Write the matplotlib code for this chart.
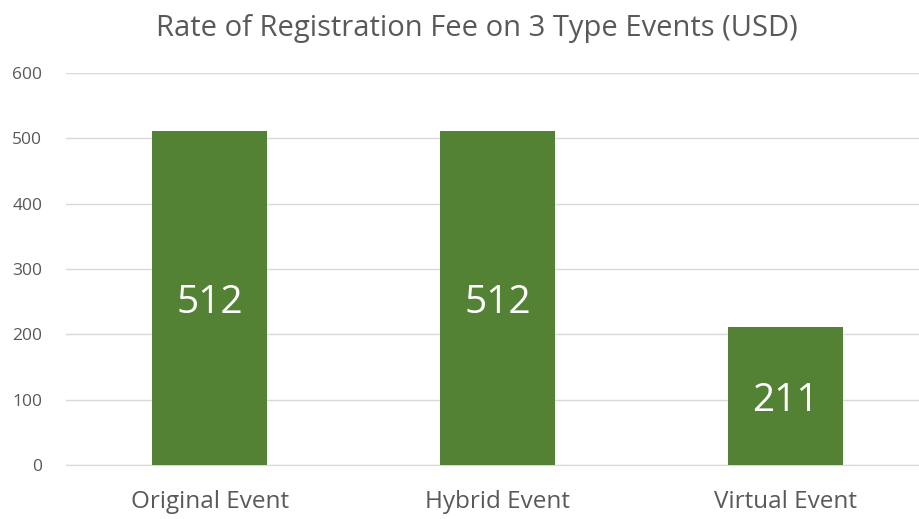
import matplotlib
matplotlib.use("Agg")
import matplotlib.pyplot as plt

categories = ["Original Event", "Hybrid Event", "Virtual Event"]
values = [512, 512, 211]
yticks = [0, 100, 200, 300, 400, 500, 600]
title = "Rate of Registration Fee on 3 Type Events (USD)"

plt.rcParams['font.family'] = ['Open Sans', 'DejaVu Sans']
gray = "#595959"
green = "#548235"

fig = plt.figure(figsize=(9.2, 5.19), dpi=100)
ax = fig.add_axes([0.0717, 0.104, 0.938, 0.755])
x = list(range(len(categories)))
bars = ax.bar(x, values, width=0.4, color=green, zorder=3)
for xi, v in zip(x, values):
    ax.text(xi, v / 2 - 8, str(v), ha="center", va="center", color="white", fontsize=28)

ax.set_xlim(-0.5, 2.5)
ax.set_ylim(0, 600)
ax.set_yticks(yticks)
ax.set_xticks(x)
ax.set_xticklabels(categories, fontsize=17.5, color=gray)
ax.tick_params(axis="y", labelsize=12.5, colors=gray, length=0, pad=17)
ax.tick_params(axis="x", length=0, pad=18)
ax.grid(axis="y", color="#d9d9d9", linewidth=1, zorder=0)
for s in ["top", "right", "left"]:
    ax.spines[s].set_visible(False)
ax.spines["bottom"].set_color("#d9d9d9")
fig.text(0.518, 0.946, title, ha="center", va="center", fontsize=21, color=gray)
fig.savefig("out.png", dpi=100, facecolor="white")
